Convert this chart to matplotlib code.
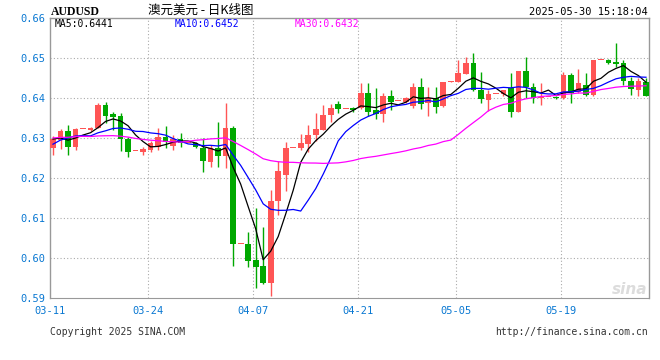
import numpy as np
import matplotlib
matplotlib.use("Agg")
import matplotlib.pyplot as plt

# Constants
FIG_W, FIG_H, DPI = 660, 360, 100
RED = '#ff5555'
GREEN = '#00a800'
AXIS_BLUE = '#0a78d2'
GRID_GREY = '#aaaaaa'
MONO = 'DejaVu Sans Mono'

# daily candles (Sina forex data, one entry per calendar day, 05-04 absent)
dates = ['03-11', '03-12', '03-13', '03-14', '03-15', '03-16', '03-17', '03-18', '03-19', '03-20',
         '03-21', '03-22', '03-23', '03-24', '03-25', '03-26', '03-27', '03-28', '03-29', '03-30',
         '03-31', '04-01', '04-02', '04-03', '04-04', '04-05', '04-06', '04-07', '04-08', '04-09',
         '04-10', '04-11', '04-12', '04-13', '04-14', '04-15', '04-16', '04-17', '04-18', '04-19',
         '04-20', '04-21', '04-22', '04-23', '04-24', '04-25', '04-26', '04-27', '04-28', '04-29',
         '04-30', '05-01', '05-02', '05-03', '05-05', '05-06', '05-07', '05-08', '05-09', '05-10',
         '05-11', '05-12', '05-13', '05-14', '05-15', '05-16', '05-17', '05-18', '05-19', '05-20',
         '05-21', '05-22', '05-23', '05-24', '05-25', '05-26', '05-27', '05-28', '05-29', '05-30']

opens = [0.6276, 0.6295, 0.6317, 0.6277, 0.6322, 0.6320, 0.6326, 0.6382, 0.6359, 0.6355,
         0.6297, 0.6267, 0.6265, 0.6270, 0.6277, 0.6302, 0.6280, 0.6297, 0.6287, 0.6287,
         0.6274, 0.6241, 0.6274, 0.6255, 0.6326, 0.6034, 0.6034, 0.5996, 0.5980, 0.5938,
         0.6142, 0.6208, 0.6275, 0.6274, 0.6285, 0.6307, 0.6321, 0.6357, 0.6385, 0.6372,
         0.6375, 0.6375, 0.6412, 0.6370, 0.6360, 0.6405, 0.6392, 0.6391, 0.6380, 0.6428,
         0.6387, 0.6401, 0.6381, 0.6441, 0.6439, 0.6459, 0.6487, 0.6420, 0.6395, 0.6410,
         0.6409, 0.6424, 0.6366, 0.6467, 0.6427, 0.6400, 0.6403, 0.6403, 0.6400, 0.6458,
         0.6416, 0.6432, 0.6407, 0.6495, 0.6495, 0.6491, 0.6488, 0.6442, 0.6420, 0.6441]

highs = [0.6304, 0.6322, 0.6332, 0.6324, 0.6322, 0.6328, 0.6388, 0.6391, 0.6366, 0.6362,
         0.6303, 0.6267, 0.6278, 0.6292, 0.6325, 0.6330, 0.6307, 0.6312, 0.6287, 0.6290,
         0.6300, 0.6282, 0.6341, 0.6388, 0.6331, 0.6034, 0.6066, 0.6124, 0.6078, 0.6170,
         0.6242, 0.6289, 0.6275, 0.6310, 0.6333, 0.6362, 0.6383, 0.6385, 0.6393, 0.6372,
         0.6378, 0.6438, 0.6438, 0.6424, 0.6413, 0.6420, 0.6392, 0.6402, 0.6437, 0.6451,
         0.6427, 0.6428, 0.6441, 0.6443, 0.6495, 0.6502, 0.6512, 0.6464, 0.6420, 0.6410,
         0.6421, 0.6463, 0.6467, 0.6502, 0.6438, 0.6438, 0.6403, 0.6406, 0.6466, 0.6462,
         0.6472, 0.6462, 0.6495, 0.6495, 0.6497, 0.6538, 0.6495, 0.6453, 0.6449, 0.6449]

lows = [0.6258, 0.6273, 0.6258, 0.6270, 0.6322, 0.6317, 0.6326, 0.6337, 0.6320, 0.6268,
        0.6253, 0.6267, 0.6258, 0.6265, 0.6270, 0.6275, 0.6270, 0.6277, 0.6287, 0.6276,
        0.6216, 0.6228, 0.6227, 0.6224, 0.5981, 0.6034, 0.5978, 0.5924, 0.5934, 0.5906,
        0.6108, 0.6168, 0.6275, 0.6271, 0.6265, 0.6292, 0.6320, 0.6339, 0.6363, 0.6372,
        0.6365, 0.6372, 0.6355, 0.6347, 0.6341, 0.6370, 0.6392, 0.6387, 0.6375, 0.6372,
        0.6355, 0.6362, 0.6378, 0.6439, 0.6439, 0.6459, 0.6418, 0.6387, 0.6368, 0.6410,
        0.6405, 0.6353, 0.6366, 0.6400, 0.6388, 0.6383, 0.6403, 0.6398, 0.6398, 0.6388,
        0.6412, 0.6405, 0.6405, 0.6495, 0.6485, 0.6478, 0.6432, 0.6408, 0.6405, 0.6405]

closes = [0.6297, 0.6318, 0.6278, 0.6322, 0.6322, 0.6326, 0.6382, 0.6355, 0.6353, 0.6297,
          0.6266, 0.6267, 0.6272, 0.6287, 0.6303, 0.6289, 0.6297, 0.6287, 0.6287, 0.6278,
          0.6243, 0.6274, 0.6255, 0.6326, 0.6035, 0.6034, 0.5993, 0.5978, 0.5938, 0.6142,
          0.6217, 0.6275, 0.6275, 0.6287, 0.6307, 0.6322, 0.6357, 0.6375, 0.6372, 0.6372,
          0.6370, 0.6412, 0.6366, 0.6360, 0.6405, 0.6391, 0.6392, 0.6399, 0.6428, 0.6385,
          0.6399, 0.6378, 0.6441, 0.6441, 0.6463, 0.6487, 0.6420, 0.6397, 0.6409, 0.6410,
          0.6420, 0.6366, 0.6467, 0.6427, 0.6399, 0.6403, 0.6403, 0.6400, 0.6458, 0.6412,
          0.6437, 0.6407, 0.6495, 0.6495, 0.6488, 0.6485, 0.6442, 0.6422, 0.6443, 0.6405]

# closes before the visible window, only needed to start the moving averages
prior_closes = [0.6275, 0.6268, 0.6272, 0.6300, 0.6340, 0.6340, 0.6342, 0.6345, 0.6338, 0.6332,
                0.6370, 0.6345, 0.6345, 0.6343, 0.6342, 0.6318, 0.6322, 0.6220, 0.6200, 0.6200,
                0.6215, 0.6223, 0.6275, 0.6315, 0.6330, 0.6305, 0.6305, 0.6295, 0.6285]

tick_dates = ['03-11', '03-24', '04-07', '04-21', '05-05', '05-19']
price_ticks = [0.59, 0.60, 0.61, 0.62, 0.63, 0.64, 0.65, 0.66]

ma_specs = [(5, 'black', 'MA5:0.6441'), (10, '#0000ff', 'MA10:0.6452'), (30, '#ff00ff', 'MA30:0.6432')]


def moving_average(values, n, skip):
    arr = np.asarray(values)
    return np.array([arr[i - n + 1:i + 1].mean() for i in range(skip, len(arr))])


def px(x, y):
    """pixel position -> figure fraction"""
    return x / FIG_W, 1 - y / FIG_H


plt.rcParams['font.family'] = ['DejaVu Sans', 'Noto Sans CJK SC']

fig = plt.figure(figsize=(FIG_W / DPI, FIG_H / DPI), dpi=DPI)
ax = fig.add_axes([50 / FIG_W, 1 - 298 / FIG_H, 599 / FIG_W, 280 / FIG_H])

n = len(dates)
xs = np.arange(n)
o = np.array(opens)
c = np.array(closes)
up = c >= o

# grid
for p in price_ticks[1:-1]:
    ax.axhline(p, color=GRID_GREY, lw=0.8, ls=(0, (1, 2)), zorder=0)
tick_pos = [dates.index(d) - 0.35 for d in tick_dates]
for t in tick_pos[1:]:
    ax.axvline(t, color=GRID_GREY, lw=0.8, ls=(0, (1, 2)), zorder=0)

# candles
colors = np.where(up, RED, GREEN)
ax.vlines(xs, lows, highs, colors=colors, lw=1, zorder=2)
body_h = np.maximum(np.abs(c - o), 0.00025)
ax.bar(xs, body_h, bottom=np.minimum(o, c), width=0.76, color=colors, lw=0, zorder=3)

# moving averages
all_closes = prior_closes + closes
for win, col, _ in ma_specs:
    ma = moving_average(all_closes, win, len(prior_closes))
    ax.plot(xs, ma, color=col, lw=0.9, zorder=4)

ax.set_xlim(-0.4, n - 1 + 0.4)
ax.set_ylim(price_ticks[0], price_ticks[-1])

ax.set_yticks(price_ticks)
ax.set_yticklabels([f'{p:.2f}' for p in price_ticks], family=MONO, fontsize=7.5, color=AXIS_BLUE)
ax.set_xticks(tick_pos)
ax.set_xticklabels(tick_dates, family=MONO, fontsize=7.5, color=AXIS_BLUE)
ax.tick_params(length=0, pad=3)
ax.tick_params(axis='x', pad=6)

for side in ['left', 'top', 'right']:
    ax.spines[side].set_color('#999999')
    ax.spines[side].set_linewidth(1)
ax.spines['bottom'].set_color('#999999')
ax.spines['bottom'].set_linestyle((0, (1, 1)))

# legend values inside the plot
for (win, col, label), x in zip(ma_specs, [55, 175, 295]):
    fig.text(*px(x, 24), label, family=MONO, fontsize=7, color=col, va='center', ha='left')

# header
fig.text(*px(51, 12), 'AUDUSD', family='Liberation Serif', fontsize=8.5, weight='bold', va='center')
fig.text(*px(201, 10.5), '澳元美元 - 日K线图', family=['Noto Sans CJK SC', 'DejaVu Sans'],
         fontsize=9, va='center', ha='center')
fig.text(*px(648, 12), '2025-05-30 15:18:04', family=MONO, fontsize=7.5, va='center', ha='right')

# footer
fig.text(*px(50, 332), 'Copyright 2025 SINA.COM', family=MONO, fontsize=7, color='#333333', va='center')
fig.text(*px(648, 332), 'http://finance.sina.com.cn', family=MONO, fontsize=7, color='#333333',
         va='center', ha='right')
fig.text(*px(630, 290), 'sina', style='italic', weight='bold', fontsize=11, color='#dcdcdc',
         va='center', ha='center', zorder=1)

fig.savefig('out.png', dpi=DPI)
